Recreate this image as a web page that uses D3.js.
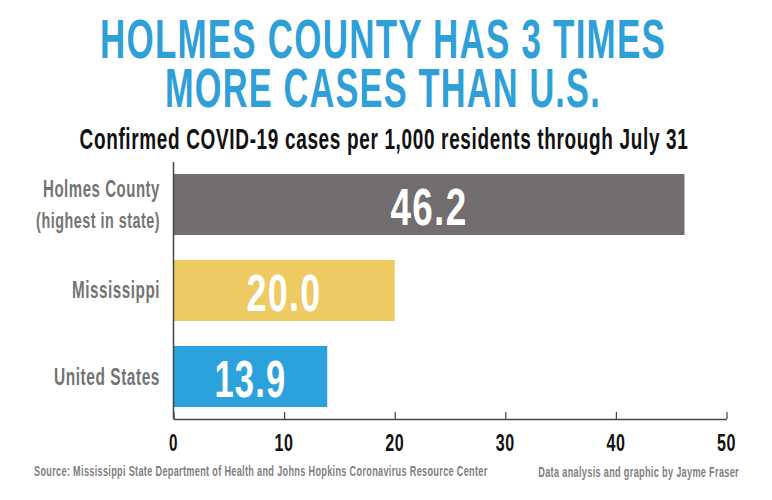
<!DOCTYPE html>
<html>
<head>
<meta charset="utf-8">
<script src="https://cdn.jsdelivr.net/npm/d3@7"></script>
<style>
  html, body { margin: 0; padding: 0; background: #fff; }
  text { font-family: "Liberation Sans Narrow", "Liberation Sans", sans-serif; font-weight: bold; }
</style>
</head>
<body>
<div id="chart"></div>
<script>
var w = 772, h = 500;

var places = ["Holmes County", "Mississippi", "United States"];
var rates = [46.2, 20.0, 13.9];
var barColors = ["#726d6f", "#edcb62", "#2ba2dc"];
var xTicks = [0, 10, 20, 30, 40, 50];

var svg = d3.select("#chart").append("svg")
    .attr("width", w)
    .attr("height", h)
    .style("display", "block");

var x = d3.scaleLinear().domain([0, 50]).range([173.5, 726.5]);
var y = d3.scaleBand().domain(places).range([161.5, 419.5]).paddingInner(0.29).paddingOuter(0.145);

// squeezes the narrow font to the width measured on the reference
function label(txt, px, py, size, color, width, anchor) {
  var t = svg.append("text")
      .attr("text-anchor", anchor || "middle")
      .attr("font-size", size)
      .attr("letter-spacing", "0.035em")
      .attr("fill", color)
      .text(txt);
  var k = width / t.node().getComputedTextLength();
  t.attr("transform", "translate(" + px + "," + py + ") scale(" + k + ",1)");
  return t;
}

label("HOLMES COUNTY HAS 3 TIMES", 383, 58, 55, "#2f9fd8", 566);
label("MORE CASES THAN U.S.", 383, 107, 55, "#2f9fd8", 436);
label("Confirmed COVID-19 cases per 1,000 residents through July 31", 384, 149, 29, "#111", 609);

svg.selectAll("rect.bar")
    .data(places)
    .enter()
    .append("rect")
    .attr("class", "bar")
    .attr("x", x(0))
    .attr("y", function(d) { return y(d); })
    .attr("width", function(d, i) { return x(rates[i]) - x(0); })
    .attr("height", y.bandwidth())
    .attr("fill", function(d, i) { return barColors[i]; });

var valueWidths = [77, 75, 72];
places.forEach(function(d, i) {
  label(rates[i].toFixed(1), (x(0) + x(rates[i])) / 2, y(d) + y.bandwidth() / 2 + 20, 52, "#fff", valueWidths[i]);
});

// left axis line
svg.append("line")
    .attr("x1", x(0)).attr("x2", x(0))
    .attr("y1", 162).attr("y2", 419.5)
    .attr("stroke", "#444")
    .attr("stroke-width", 1.5);

var axis = d3.axisBottom(x).tickValues(xTicks).tickSizeInner(-7).tickSizeOuter(0).tickFormat("");
var gx = svg.append("g").attr("transform", "translate(0,419)").call(axis);
gx.select(".domain").attr("stroke", "#444").attr("stroke-width", 1.5);
gx.selectAll(".tick line").attr("stroke", "#444").attr("stroke-width", 1.2);

xTicks.forEach(function(d) {
  label(String(d), x(d), 451, 23, "#111", d === 0 ? 9 : 19);
});

var grey = "#747474";
label("Holmes County", 160, 197, 24, grey, 117, "end");
label("(highest in state)", 160, 228, 22, grey, 124, "end");
label("Mississippi", 160, 298, 24, grey, 88, "end");
label("United States", 160, 385, 24, grey, 106, "end");

label("Source: Mississippi State Department of Health and Johns Hopkins Coronavirus Resource Center", 34, 476, 14.5, "#808080", 454, "start");
label("Data analysis and graphic by Jayme Fraser", 739, 477, 14.5, "#808080", 201, "end");
</script>
</body>
</html>
